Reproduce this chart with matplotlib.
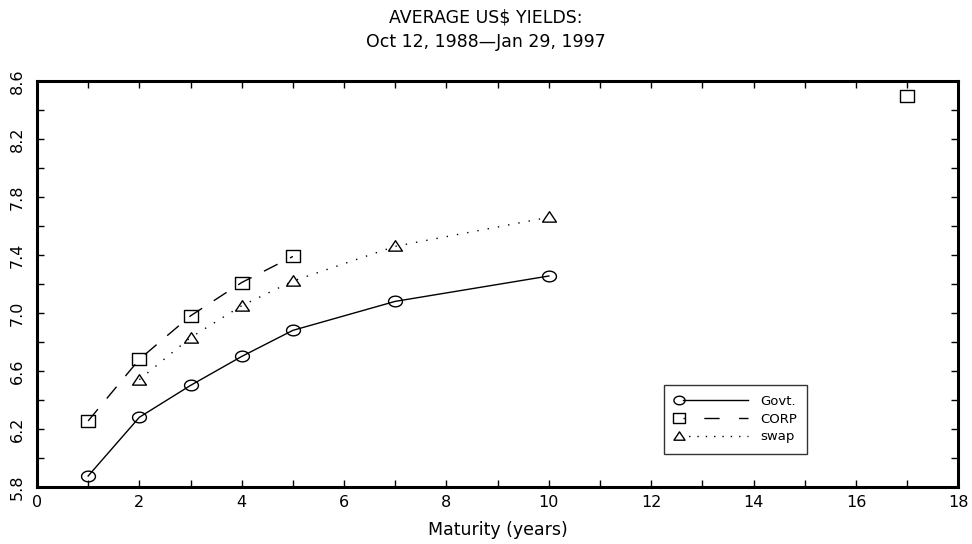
import numpy as np
import matplotlib
matplotlib.use("Agg")
import matplotlib.pyplot as plt
from matplotlib.lines import Line2D
from matplotlib.legend_handler import HandlerLine2D
from matplotlib.path import Path
from matplotlib.ticker import MultipleLocator, FixedLocator, FormatStrFormatter

# data
maturity = [1, 2, 3, 4, 5, 7, 10, 17]
govt = [5.875, 6.28, 6.50, 6.70, 6.88, 7.08, 7.255, np.nan]
corp = [6.255, 6.68, 6.98, 7.21, 7.39, np.nan, np.nan, 8.50]
swap = [np.nan, 6.54, 6.83, 7.05, 7.22, 7.46, 7.66, np.nan]

yticks = [5.8, 6.2, 6.6, 7.0, 7.4, 7.8, 8.2, 8.6]
yminor = [6.0, 6.4, 6.8, 7.2, 7.6, 8.0, 8.4]

title = "AVERAGE US$ YIELDS:\nOct 12, 1988\u2014Jan 29, 1997"
xlabel = "Maturity (years)"

# slightly flattened circle, like the original plotter symbol
t = np.linspace(0, 2 * np.pi, 41)
ellipse = Path(np.column_stack([np.cos(t) * 1.3, np.sin(t)]), closed=True)
box = Path([(-1.2, -1), (1.2, -1), (1.2, 1), (-1.2, 1), (-1.2, -1)], closed=True)
tri = Path([(-1.2, -0.8), (1.2, -0.8), (0, 1.0), (-1.2, -0.8)], closed=True)

legend_styles = {"Govt.": "-", "CORP": (0, (1, 14, 10, 0)), "swap": (2, (1, 5))}


class MarkerLeft(HandlerLine2D):
    """legend sample with the symbol at the left end, then the line"""

    def create_artists(self, legend, orig_handle, xdescent, ydescent,
                       width, height, fontsize, trans):
        y = height / 2 - ydescent
        x0 = -xdescent
        seg = Line2D([x0 + 0.12 * width, x0 + width], [y, y], color="black",
                     lw=orig_handle.get_linewidth(),
                     linestyle=legend_styles[orig_handle.get_label()])
        mk = Line2D([x0 + 0.06 * width], [y], marker=orig_handle.get_marker(),
                    markersize=orig_handle.get_markersize() * 0.8,
                    markerfacecolor="none", markeredgecolor="black",
                    markeredgewidth=orig_handle.get_markeredgewidth(), linestyle="none")
        seg.set_transform(trans)
        mk.set_transform(trans)
        return [seg, mk]


plt.rcParams["font.family"] = ["DejaVu Sans"]

fig = plt.figure(figsize=(9.72, 5.44), dpi=100)
ax = fig.add_axes([0.038, 0.105, 0.948, 0.746])

mk_kw = dict(color="black", markerfacecolor="none", markeredgecolor="black",
             markersize=10, markeredgewidth=1.0, lw=1.0)

l1, = ax.plot(maturity, govt, marker=ellipse, linestyle="-", label="Govt.", **mk_kw)
l2, = ax.plot(maturity, corp, marker=box, linestyle=(0, (11, 10)), label="CORP", **mk_kw)
l3, = ax.plot(maturity, swap, marker=tri, linestyle=(0, (1, 6.5)), label="swap", **mk_kw)

ax.set_xlim(0, 18)
ax.set_ylim(5.8, 8.6)
ax.xaxis.set_major_locator(MultipleLocator(2))
ax.xaxis.set_minor_locator(MultipleLocator(1))
ax.yaxis.set_major_locator(FixedLocator(yticks))
ax.yaxis.set_minor_locator(FixedLocator(yminor))
ax.yaxis.set_major_formatter(FormatStrFormatter("%.1f"))
ax.tick_params(which="both", direction="in", top=True, right=True,
               length=5, width=1.0, labelsize=11.5)
ax.tick_params(axis="x", pad=6)
ax.tick_params(axis="y", pad=9)
for lab in ax.get_yticklabels():
    lab.set_rotation(90)
    lab.set_va("center")
for s in ax.spines.values():
    s.set_linewidth(2.2)

ax.set_xlabel(xlabel, fontsize=12.5, labelpad=8)
fig.suptitle(title, fontsize=12.5, y=0.985, linespacing=1.5)

leg = ax.legend(handles=[l1, l2, l3], loc="lower left", bbox_to_anchor=(0.673, 0.065),
                handler_map={Line2D: MarkerLeft()}, handlelength=5.6,
                fontsize=9.5, frameon=True, fancybox=False, edgecolor="black",
                borderpad=0.8, labelspacing=0.35, handletextpad=0.9)
leg.get_frame().set_linewidth(1.0)

fig.savefig("out.png", dpi=100)
